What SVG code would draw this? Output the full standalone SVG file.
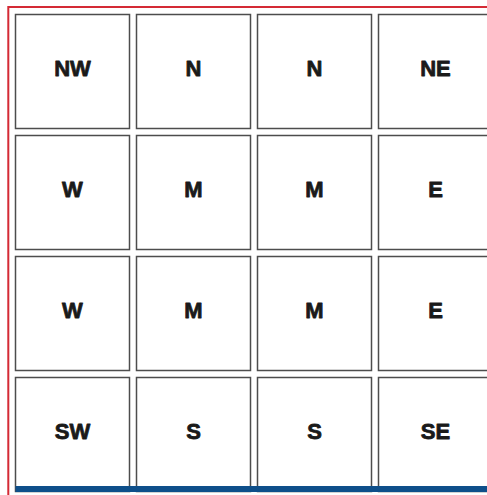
<svg xmlns="http://www.w3.org/2000/svg" width="487" height="495" viewBox="0 0 487 495">
<style>
.cell rect{fill:#fff;stroke:#4d4d4d;stroke-width:1.5}
.cell text{font-family:"Liberation Sans",Arial,sans-serif;font-weight:bold;font-size:22px;fill:#1a1a1a;stroke:#1a1a1a;stroke-width:0.8;stroke-linejoin:round;text-anchor:middle}
</style>
<rect width="487" height="495" fill="#fff"/>
<path d="M8.3 495 V7 H487" fill="none" stroke="#d42a35" stroke-width="2"/>
<g id="c-nw" class="cell"><rect x="15.5" y="14.5" width="114" height="114"/><text x="72.5" y="76">NW</text></g>
<g id="c-n1" class="cell"><rect x="136.5" y="14.5" width="114" height="114"/><text x="193.5" y="76">N</text></g>
<g id="c-n2" class="cell"><rect x="257.5" y="14.5" width="114" height="114"/><text x="314.5" y="76">N</text></g>
<g id="c-ne" class="cell"><rect x="378.5" y="14.5" width="114" height="114"/><text x="435.5" y="76">NE</text></g>
<g id="c-w1" class="cell"><rect x="15.5" y="135.5" width="114" height="114"/><text x="72.5" y="197">W</text></g>
<g id="c-m1" class="cell"><rect x="136.5" y="135.5" width="114" height="114"/><text x="193.5" y="197">M</text></g>
<g id="c-m2" class="cell"><rect x="257.5" y="135.5" width="114" height="114"/><text x="314.5" y="197">M</text></g>
<g id="c-e1" class="cell"><rect x="378.5" y="135.5" width="114" height="114"/><text x="435.5" y="197">E</text></g>
<g id="c-w2" class="cell"><rect x="15.5" y="256.5" width="114" height="114"/><text x="72.5" y="318">W</text></g>
<g id="c-m3" class="cell"><rect x="136.5" y="256.5" width="114" height="114"/><text x="193.5" y="318">M</text></g>
<g id="c-m4" class="cell"><rect x="257.5" y="256.5" width="114" height="114"/><text x="314.5" y="318">M</text></g>
<g id="c-e2" class="cell"><rect x="378.5" y="256.5" width="114" height="114"/><text x="435.5" y="318">E</text></g>
<g id="c-sw" class="cell"><rect x="15.5" y="377.5" width="114" height="114"/><text x="72.5" y="439">SW</text></g>
<g id="c-s1" class="cell"><rect x="136.5" y="377.5" width="114" height="114"/><text x="193.5" y="439">S</text></g>
<g id="c-s2" class="cell"><rect x="257.5" y="377.5" width="114" height="114"/><text x="314.5" y="439">S</text></g>
<g id="c-se" class="cell"><rect x="378.5" y="377.5" width="114" height="114"/><text x="435.5" y="439">SE</text></g>
<rect x="15.5" y="486" width="472" height="6" fill="#0e4f8a"/>
<g id="connectors"/>
</svg>
